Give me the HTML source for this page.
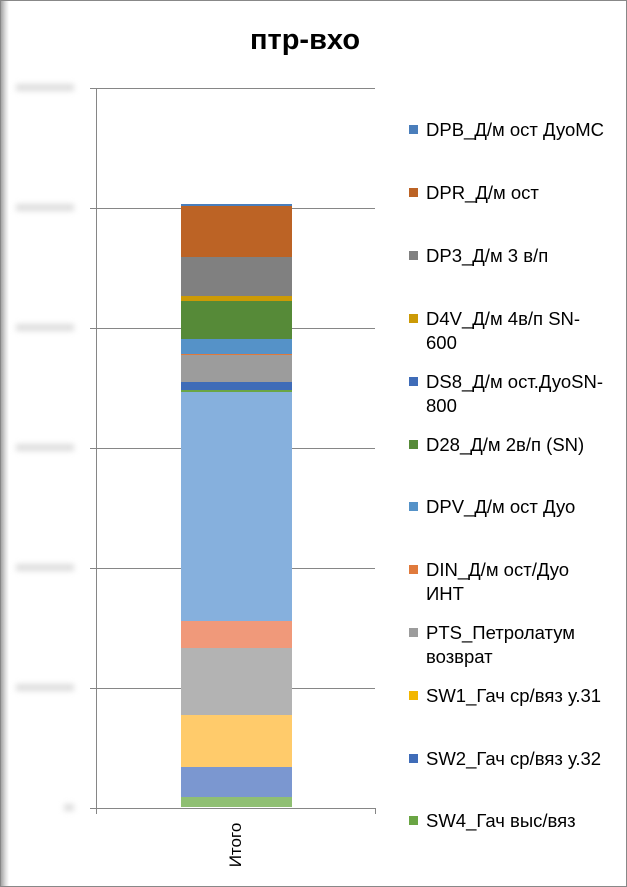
<!DOCTYPE html>
<html><head><meta charset="utf-8"><style>
body{margin:0;background:#fff;}
.c{position:relative;width:627px;height:887px;overflow:hidden;background:#fff;font-family:"Liberation Sans",sans-serif;}
.lb{position:absolute;left:0;top:0;width:9px;height:887px;background:linear-gradient(to right,#999,#ddd 60%,#fff);}
.bd{position:absolute;left:0;top:0;width:625px;height:885px;border:1px solid #888;}
.t{position:absolute;left:250px;top:24px;font-weight:bold;font-size:29px;color:#000;}
.g{position:absolute;left:90px;width:285px;height:1px;background:#868686;}
.yl{position:absolute;left:16px;width:58px;height:7px;background:#ddd;filter:blur(3px);}
.s{position:absolute;left:181px;width:111px;}
.li{position:absolute;left:409px;font-size:18.5px;color:#000;line-height:24px;white-space:nowrap;}
.li i{position:absolute;left:0;top:7px;width:9px;height:9px;}
.li span{display:block;margin-left:17px;}
</style></head><body><div class="c">
<div class="lb"></div><div class="bd"></div>
<div class="t">птр-вхо</div>
<div class="g" style="top:88px"></div><div class="g" style="top:208px"></div><div class="g" style="top:328px"></div><div class="g" style="top:448px"></div><div class="g" style="top:568px"></div><div class="g" style="top:688px"></div><div class="g" style="top:808px"></div>
<div style="position:absolute;left:96px;top:88px;width:1px;height:720px;background:#868686"></div>
<div style="position:absolute;left:96px;top:808px;width:1px;height:6px;background:#868686"></div>
<div style="position:absolute;left:375px;top:808px;width:1px;height:6px;background:#868686"></div>
<div class="yl" style="top:84px"></div><div class="yl" style="top:204px"></div><div class="yl" style="top:324px"></div><div class="yl" style="top:444px"></div><div class="yl" style="top:564px"></div><div class="yl" style="top:684px"></div><div class="yl" style="top:804px;left:64px;width:10px"></div>
<div class="s" style="top:204px;height:2px;background:#4a7ebb"></div>
<div class="s" style="top:206px;height:51px;background:#bc6325"></div>
<div class="s" style="top:257px;height:39px;background:#808080"></div>
<div class="s" style="top:296px;height:5px;background:#cc9a06"></div>
<div class="s" style="top:301px;height:38px;background:#568a38"></div>
<div class="s" style="top:339px;height:15px;background:#5592c8"></div>
<div class="s" style="top:354px;height:1px;background:#e07a3c"></div>
<div class="s" style="top:355px;height:27px;background:#9c9c9c"></div>
<div class="s" style="top:382px;height:8px;background:#3f6cb8"></div>
<div class="s" style="top:390px;height:2px;background:#6aa544"></div>
<div class="s" style="top:392px;height:229px;background:#86b0dd"></div>
<div class="s" style="top:621px;height:27px;background:#f0997a"></div>
<div class="s" style="top:648px;height:67px;background:#b3b3b3"></div>
<div class="s" style="top:715px;height:52px;background:#ffcb6b"></div>
<div class="s" style="top:767px;height:30px;background:#7b97d0"></div>
<div class="s" style="top:797px;height:10px;background:#8fbf73"></div>
<div style="position:absolute;left:211px;width:50px;transform:rotate(-90deg);transform-origin:center;font-size:17px;top:835px;text-align:center;line-height:20px">Итого</div>
<div class="li" style="top:118px"><i style="background:#4a7ebb"></i><span>DPB_Д/м ост ДуоМС</span></div>
<div class="li" style="top:181px"><i style="background:#bc6325"></i><span>DPR_Д/м ост</span></div>
<div class="li" style="top:244px"><i style="background:#808080"></i><span>DP3_Д/м 3 в/п</span></div>
<div class="li" style="top:307px"><i style="background:#cc9a06"></i><span>D4V_Д/м 4в/п SN-<br>600</span></div>
<div class="li" style="top:370px"><i style="background:#3f6cb8"></i><span>DS8_Д/м ост.ДуоSN-<br>800</span></div>
<div class="li" style="top:433px"><i style="background:#568a38"></i><span>D28_Д/м 2в/п (SN)</span></div>
<div class="li" style="top:495px"><i style="background:#5592c8"></i><span>DPV_Д/м ост Дуо</span></div>
<div class="li" style="top:558px"><i style="background:#e07a3c"></i><span>DIN_Д/м ост/Дуо<br>ИНТ</span></div>
<div class="li" style="top:621px"><i style="background:#9c9c9c"></i><span>PTS_Петролатум<br>возврат</span></div>
<div class="li" style="top:684px"><i style="background:#f2b600"></i><span>SW1_Гач ср/вяз у.31</span></div>
<div class="li" style="top:747px"><i style="background:#3f6cb8"></i><span>SW2_Гач ср/вяз у.32</span></div>
<div class="li" style="top:809px"><i style="background:#6aa544"></i><span>SW4_Гач выс/вяз</span></div>
</div></body></html>
